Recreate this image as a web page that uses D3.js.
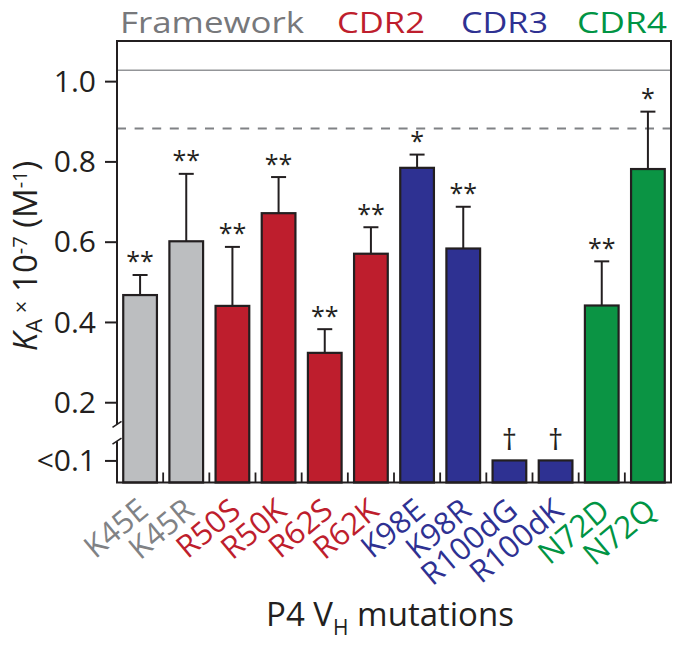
<!DOCTYPE html>
<html>
<head>
<meta charset="utf-8">
<script src="https://cdn.jsdelivr.net/npm/d3@7"></script>
<style>
  html, body { margin: 0; padding: 0; background: #fff; }
  svg { display: block; }
  text { font-family: "Open Sans", "Noto Sans", sans-serif; }
</style>
</head>
<body>
<svg id="chart" width="675" height="646"></svg>
<script>
// ---------------- data ----------------
const categories = ["K45E","K45R","R50S","R50K","R62S","R62K","K98E","K98R","R100dG","R100dK","N72D","N72Q"];
const groups     = ["Framework","Framework","CDR2","CDR2","CDR2","CDR2","CDR3","CDR3","CDR3","CDR3","CDR4","CDR4"];
const LOW = 0.055; // axis position used for the "<0.1" level
const values = [0.467, 0.601, 0.440, 0.671, 0.323, 0.570, 0.784, 0.583, LOW, LOW, 0.441, 0.781];
const errors = [0.050, 0.168, 0.147, 0.090, 0.059, 0.066, 0.033, 0.104, null, null, 0.110, 0.143];
const marks  = ["**","**","**","**","**","**","*","**","\u2020","\u2020","**","*"];
const yTickValues = [LOW, 0.2, 0.4, 0.6, 0.8, 1.0];
const yTickLabels = ["<0.1", "0.2", "0.4", "0.6", "0.8", "1.0"];
const refSolid = 1.027;
const refDashed = 0.882;
const groupNames = ["Framework", "CDR2", "CDR3", "CDR4"];

// ---------------- styles ----------------
const fillColor = {Framework: "#bcbec0", CDR2: "#be1e2d", CDR3: "#2e3192", CDR4: "#0b9444"};
const textColor = {Framework: "#808285", CDR2: "#be1e2d", CDR3: "#2e3192", CDR4: "#009444"};
const ink = "#231f20";

// ---------------- layout ----------------
const L = 117, R = 671, T = 41, B = 482.5;
const svg = d3.select("#chart");

const x = d3.scaleBand().domain(categories).range([L, R]).paddingInner(0.27).paddingOuter(0.135);
const y = d3.scaleLinear().domain([0, 1.1]).range([B, T]);

// reference lines
svg.append("line").attr("x1", L).attr("x2", R).attr("y1", y(refSolid)).attr("y2", y(refSolid))
  .attr("stroke", "#939598").attr("stroke-width", 1.4);
svg.append("line").attr("x1", L).attr("x2", R).attr("y1", y(refDashed)).attr("y2", y(refDashed))
  .attr("stroke", "#808285").attr("stroke-width", 1.8).attr("stroke-dasharray", "9,8.6");

// bars
svg.append("g").selectAll("rect").data(categories).join("rect")
  .attr("x", d => x(d))
  .attr("width", x.bandwidth())
  .attr("y", (d, i) => y(values[i]))
  .attr("height", (d, i) => B - y(values[i]))
  .attr("fill", (d, i) => fillColor[groups[i]])
  .attr("stroke", ink).attr("stroke-width", 2.2);

// error bars
const eg = svg.append("g").attr("stroke", ink).attr("stroke-width", 2);
categories.forEach((c, i) => {
  if (errors[i] == null) return;
  const cx = x(c) + x.bandwidth() / 2;
  const yt = y(values[i] + errors[i]);
  eg.append("line").attr("x1", cx).attr("x2", cx).attr("y1", y(values[i])).attr("y2", yt);
  eg.append("line").attr("x1", cx - 7.5).attr("x2", cx + 7.5).attr("y1", yt).attr("y2", yt);
});

// significance marks
svg.append("g").selectAll("text").data(categories).join("text")
  .attr("x", d => x(d) + x.bandwidth() / 2)
  .attr("y", (d, i) => errors[i] == null ? y(values[i]) - 10 : y(values[i] + errors[i]) - 4.5)
  .attr("text-anchor", "middle")
  .attr("font-size", (d, i) => marks[i] === "\u2020" ? 30 : 25)
  .attr("fill", ink)
  .text((d, i) => marks[i]);

// frame (top, right, bottom) and left axis line with a break
const breakHi = 0.145, breakLo = 0.103;
const frame = svg.append("g").attr("stroke", ink).attr("stroke-width", 2).attr("fill", "none");
frame.append("path").attr("d", `M${L},${y(breakHi)}V${T}H${R}V${B}H${L}V${y(breakLo)}`);
[breakHi, breakLo].forEach(v => {
  frame.append("line").attr("x1", L - 4.5).attr("x2", L + 4.5)
    .attr("y1", y(v) + 3).attr("y2", y(v) - 3).attr("stroke-width", 1.6);
});

// band-boundary ticks on the bottom axis
const step = x.step();
svg.append("g").selectAll("line").data(categories.slice(1)).join("line")
  .attr("x1", d => x(d) - step * x.paddingInner() / 2)
  .attr("x2", d => x(d) - step * x.paddingInner() / 2)
  .attr("y1", B).attr("y2", B - 10)
  .attr("stroke", ink).attr("stroke-width", 1.8);

// y axis
const yAxis = d3.axisLeft(y).tickValues(yTickValues)
  .tickFormat((d, i) => yTickLabels[i]).tickSize(12).tickSizeOuter(0).tickPadding(9);
const yg = svg.append("g").attr("transform", `translate(${L},0)`).call(yAxis);
yg.select(".domain").remove();
yg.selectAll(".tick line").attr("stroke", ink).attr("stroke-width", 2);
yg.selectAll(".tick text").attr("font-size", 30).attr("fill", ink)
  .attr("font-family", '"Open Sans", sans-serif').attr("dy", "0.34em");

// x axis (category labels)
const xAxis = d3.axisBottom(x).tickSize(0).tickPadding(0);
const xg = svg.append("g").attr("transform", `translate(0,${B})`).call(xAxis);
xg.select(".domain").remove();
xg.selectAll(".tick text")
  .attr("font-size", 31).attr("font-family", '"Open Sans", sans-serif')
  .attr("fill", (d, i) => textColor[groups[i]])
  .attr("text-anchor", "end")
  .attr("x", 0).attr("y", 0).attr("dy", 0)
  .attr("transform", "translate(10,31) rotate(-40)");

// group header labels
const headerX = [120, 337, 461, 577];
const headerW = [184, 88, 87, 90];
svg.append("g").selectAll("text").data(groupNames).join("text")
  .attr("x", (d, i) => headerX[i]).attr("y", 32.5)
  .attr("font-size", 30)
  .attr("textLength", (d, i) => headerW[i]).attr("lengthAdjust", "spacingAndGlyphs")
  .attr("fill", d => d === "Framework" ? "#77787b" : textColor[d])
  .text(d => d);

// y axis title
const yt = svg.append("text")
  .attr("transform", "translate(37,256) rotate(-90)")
  .attr("text-anchor", "middle").attr("fill", ink).attr("font-size", 33);
yt.append("tspan").attr("font-style", "italic").text("K");
yt.append("tspan").attr("font-size", 22).attr("dy", 5).text("A");
yt.append("tspan").attr("font-size", 22).attr("dy", -13).text(" \u00d7");
yt.append("tspan").attr("dy", 8).text(" 10");
yt.append("tspan").attr("font-size", 20).attr("dy", -10).text("-7");
yt.append("tspan").attr("dy", 10).text(" (M");
yt.append("tspan").attr("font-size", 20).attr("dy", -10).text("-1");
yt.append("tspan").attr("dy", 10).text(")");

// x axis title
const xt = svg.append("text")
  .attr("x", 390).attr("y", 626)
  .attr("text-anchor", "middle").attr("fill", ink).attr("font-size", 33);
xt.append("tspan").text("P4 V");
xt.append("tspan").attr("font-size", 21).attr("dy", 9).text("H");
xt.append("tspan").attr("dy", -9).text(" mutations");
</script>
</body>
</html>
